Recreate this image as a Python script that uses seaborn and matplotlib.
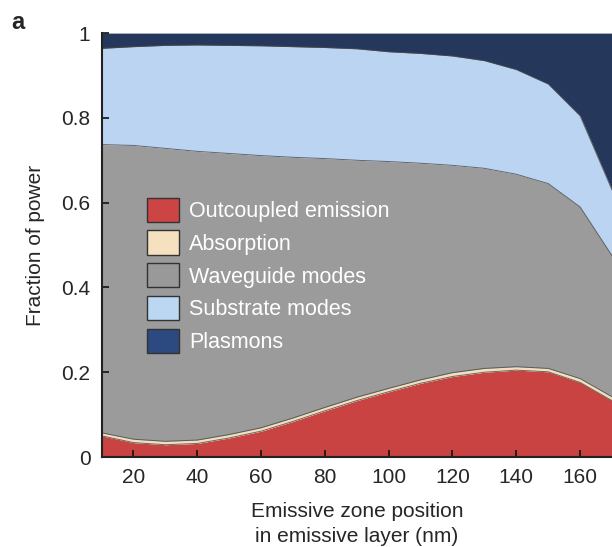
import matplotlib
matplotlib.use("Agg")
import matplotlib.pyplot as plt
from matplotlib.patches import Patch
import seaborn as sns
import numpy as np
import pandas as pd

# Emissive zone position (nm)
position = [10, 20, 30, 40, 50, 60, 70, 80, 90, 100, 110, 120, 130, 140, 150, 160, 170]

# Fraction of power per channel
outcoupled = [0.050, 0.034, 0.029, 0.032, 0.045, 0.061, 0.084, 0.109, 0.133,
              0.154, 0.174, 0.190, 0.200, 0.205, 0.201, 0.176, 0.133]
absorption = [0.007, 0.008, 0.008, 0.008, 0.008, 0.008, 0.008, 0.008, 0.008,
              0.008, 0.008, 0.009, 0.009, 0.008, 0.008, 0.009, 0.009]
waveguide = [0.680, 0.693, 0.691, 0.681, 0.663, 0.642, 0.615, 0.587, 0.559,
             0.535, 0.511, 0.489, 0.472, 0.454, 0.436, 0.405, 0.333]
substrate = [0.227, 0.233, 0.243, 0.251, 0.255, 0.259, 0.261, 0.262, 0.263,
             0.259, 0.259, 0.258, 0.254, 0.247, 0.235, 0.215, 0.155]
plasmons = [0.036, 0.032, 0.029, 0.028, 0.029, 0.030, 0.032, 0.034, 0.037,
            0.044, 0.048, 0.054, 0.065, 0.086, 0.120, 0.195, 0.370]

labels = ["Outcoupled emission", "Absorption", "Waveguide modes",
          "Substrate modes", "Plasmons"]
fill_colors = ["#c94343", "#f3dfbb", "#9b9b9b", "#bad4f1", "#25385c"]
legend_colors = ["#cc4444", "#f5e1c0", "#999999", "#bcd7f2", "#2d4a80"]

sns.set_style("ticks")
plt.rcParams['font.family'] = ['Liberation Sans', 'DejaVu Sans']
plt.rcParams['font.size'] = 15

df = pd.DataFrame({"position": position, "Outcoupled emission": outcoupled,
                   "Absorption": absorption, "Waveguide modes": waveguide,
                   "Substrate modes": substrate, "Plasmons": plasmons})

fig = plt.figure(figsize=(6.12, 5.47), dpi=100)
ax = fig.add_axes([0.166, 0.1645, 0.834, 0.775])

# stacked areas
lower = np.zeros(len(df))
for name, col in zip(labels, fill_colors):
    upper = lower + df[name].to_numpy()
    ax.fill_between(df["position"], lower, upper, color=col, lw=0, zorder=1)
    if name != "Plasmons":
        sns.lineplot(x=df["position"], y=upper, ax=ax, color="#4a4a4a",
                     lw=0.7, alpha=0.8, zorder=2)
    lower = upper

ax.set_axisbelow(False)
ax.set_xlim(10, 170)
ax.set_ylim(0, 1)
ax.set_xticks([20, 40, 60, 80, 100, 120, 140, 160])
ax.set_yticks([0, 0.2, 0.4, 0.6, 0.8, 1.0])
ax.set_yticklabels(["0", "0.2", "0.4", "0.6", "0.8", "1"])
ax.tick_params(direction="in", length=5, width=1.2, color="#111111",
               labelsize=15, pad=8)
ax.set_xlabel("Emissive zone position\nin emissive layer (nm)", fontsize=15,
              labelpad=11, linespacing=1.4)
ax.set_ylabel("Fraction of power", fontsize=15, labelpad=12)

for s in ["top", "right"]:
    ax.spines[s].set_visible(False)
for s in ["left", "bottom"]:
    ax.spines[s].set_linewidth(1.5)
    ax.spines[s].set_color("#222222")
    ax.spines[s].set_zorder(5)

handles = [Patch(facecolor=c, edgecolor="#333333", lw=1.0) for c in legend_colors]
leg = ax.legend(handles, labels, loc="upper left", bbox_to_anchor=(0.089, 0.612),
                frameon=False, borderpad=0, borderaxespad=0, handlelength=1.5,
                handleheight=1.35, handletextpad=0.45, labelspacing=0.4, fontsize=15.5)
for t in leg.get_texts():
    t.set_color("white")

fig.text(0.018, 0.958, "a", fontsize=17, fontweight="bold", va="center")

plt.savefig("out.png", dpi=100)
plt.close()
